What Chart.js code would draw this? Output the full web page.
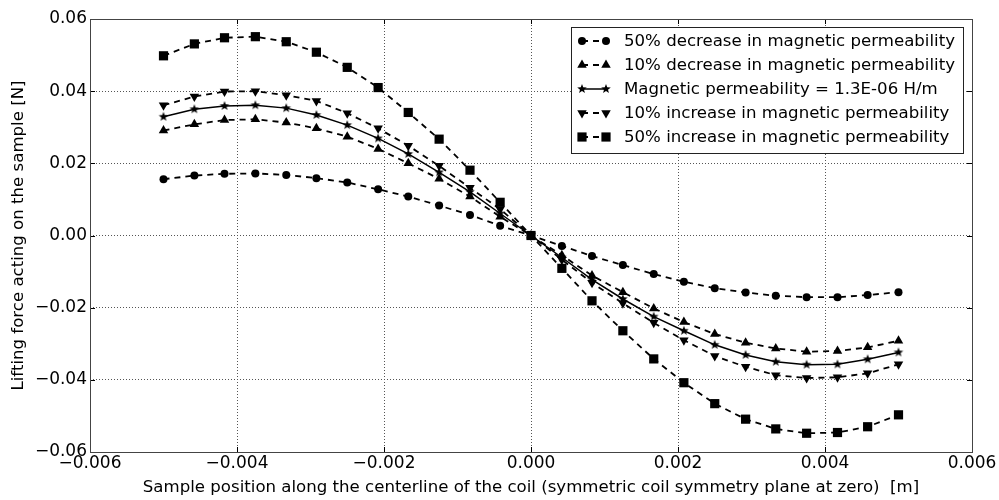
<!DOCTYPE html>
<html>
<head>
<meta charset="utf-8">
<script src="https://cdn.jsdelivr.net/npm/chart.js@4.4.0/dist/chart.umd.min.js"></script>
<style>
  html, body { margin: 0; padding: 0; background: #fff; }
  #wrap { width: 999px; height: 500px; }
</style>
</head>
<body>
<div id="wrap"><canvas id="chart" width="999" height="500"></canvas></div>
<script>
// sample positions [m]
const positions = [-0.005, -0.00458, -0.00417, -0.00375, -0.00333, -0.00292, -0.0025, -0.00208,
  -0.00167, -0.00125, -0.00083, -0.00042, 0, 0.00042, 0.00083, 0.00125, 0.00167, 0.00208,
  0.0025, 0.00292, 0.00333, 0.00375, 0.00417, 0.00458, 0.005];

// lifting force [N]
const dec50 = [0.0156, 0.0166, 0.0171, 0.0172, 0.0168, 0.0159, 0.0147, 0.0128, 0.0108, 0.0083, 0.0057, 0.0027, 0,
  -0.0029, -0.0057, -0.0082, -0.0107, -0.0128, -0.0146, -0.0158, -0.0167, -0.0171, -0.0171, -0.0165, -0.0157];
const dec10 = [0.0291, 0.0308, 0.0320, 0.0322, 0.0313, 0.0297, 0.0274, 0.0240, 0.0200, 0.0157, 0.0108, 0.0052, 0,
  -0.0055, -0.0111, -0.0157, -0.0202, -0.0240, -0.0273, -0.0297, -0.0313, -0.0322, -0.0320, -0.0310, -0.0292];
const nominal = [0.0329, 0.0350, 0.0359, 0.0361, 0.0353, 0.0334, 0.0306, 0.0269, 0.0226, 0.0175, 0.0121, 0.0061, 0,
  -0.0061, -0.0122, -0.0176, -0.0225, -0.0264, -0.0303, -0.0331, -0.0350, -0.0358, -0.0357, -0.0343, -0.0324];
const inc10 = [0.0361, 0.0385, 0.0399, 0.0400, 0.0389, 0.0373, 0.0339, 0.0297, 0.0249, 0.0193, 0.0132, 0.0073, 0,
  -0.0067, -0.0131, -0.0188, -0.0242, -0.0290, -0.0334, -0.0364, -0.0387, -0.0395, -0.0393, -0.0382, -0.0357];
const inc50 = [0.0498, 0.0531, 0.0548, 0.0551, 0.0537, 0.0508, 0.0466, 0.0410, 0.0341, 0.0267, 0.0181, 0.0092, 0,
  -0.0091, -0.0181, -0.0264, -0.0342, -0.0408, -0.0466, -0.0509, -0.0536, -0.0548, -0.0546, -0.0530, -0.0497];

const seriesNames = [
  "50% decrease in magnetic permeability",
  "10% decrease in magnetic permeability",
  "Magnetic permeability = 1.3E-06 H/m",
  "10% increase in magnetic permeability",
  "50% increase in magnetic permeability"
];

const FONT = "'DejaVu Sans', sans-serif";

// filled five-point star marker
function makeStar(outer, inner) {
  const c = document.createElement("canvas");
  const s = Math.ceil(outer * 2 + 2);
  c.width = s; c.height = s;
  const g = c.getContext("2d");
  g.fillStyle = "#000";
  g.beginPath();
  for (let i = 0; i < 10; i++) {
    const r = i % 2 ? inner : outer;
    const a = -Math.PI / 2 + i * Math.PI / 5;
    const px = s / 2 + r * Math.cos(a), py = s / 2 + r * Math.sin(a);
    i ? g.lineTo(px, py) : g.moveTo(px, py);
  }
  g.closePath();
  g.fill();
  return c;
}
const star = makeStar(5, 2.1);

function pts(vals) {
  return vals.map((v, i) => ({ x: positions[i], y: v }));
}

function series(label, vals, style, radius, rotation, dashed) {
  return {
    label: label,
    data: pts(vals),
    showLine: true,
    borderColor: "#000",
    backgroundColor: "#000",
    borderWidth: dashed ? 1.8 : 1.5,
    borderDash: dashed ? [6, 5] : [],
    pointStyle: style,
    pointRadius: radius,
    pointRotation: rotation,
    pointBorderWidth: 0,
    pointBackgroundColor: "#000",
    tension: 0
  };
}

function fmt(v, d) {
  if (Math.abs(v) < 1e-12) v = 0;
  return v.toFixed(d).replace("-", "\u2212");
}

// frame with inward ticks on all four sides
const frame = {
  id: "frame",
  beforeDatasetsDraw(chart) {
    const { ctx, chartArea: a, scales } = chart;
    ctx.save();
    ctx.strokeStyle = "#000";
    ctx.lineWidth = 1;
    ctx.beginPath();
    scales.x.ticks.forEach(t => {
      const px = Math.round(scales.x.getPixelForValue(t.value)) + 0.5;
      ctx.moveTo(px, a.bottom); ctx.lineTo(px, a.bottom - 5);
      ctx.moveTo(px, a.top); ctx.lineTo(px, a.top + 5);
    });
    scales.y.ticks.forEach(t => {
      const py = Math.round(scales.y.getPixelForValue(t.value)) + 0.5;
      ctx.moveTo(a.left, py); ctx.lineTo(a.left + 5, py);
      ctx.moveTo(a.right, py); ctx.lineTo(a.right - 5, py);
    });
    ctx.stroke();
    ctx.strokeStyle = "#444";
    ctx.strokeRect(Math.round(a.left) + 0.5, Math.round(a.top) + 0.5,
      Math.round(a.right - a.left), Math.round(a.bottom - a.top));
    ctx.restore();
  }
};

// legend box with marker-line-marker samples
const legendBox = {
  id: "legendBox",
  afterDraw(chart) {
    const ctx = chart.ctx;
    const x0 = 571, y0 = 27, w = 392, h = 126, rowH = 24;
    ctx.save();
    ctx.fillStyle = "#fff";
    ctx.fillRect(x0, y0, w, h);
    ctx.strokeStyle = "#222";
    ctx.lineWidth = 1;
    ctx.strokeRect(x0 + 0.5, y0 + 0.5, w, h);
    chart.data.datasets.forEach((ds, i) => {
      const y = y0 + 14 + i * rowH;
      const xa = 582, xb = 606;
      ctx.strokeStyle = "#000";
      ctx.lineWidth = ds.borderWidth;
      ctx.setLineDash(ds.borderDash);
      ctx.beginPath();
      ctx.moveTo(xa, y); ctx.lineTo(xb, y);
      ctx.stroke();
      ctx.setLineDash([]);
      [xa, xb].forEach(px => {
        ctx.fillStyle = "#000";
        Chart.helpers.drawPoint(ctx, {
          pointStyle: ds.pointStyle, radius: ds.pointRadius,
          rotation: ds.pointRotation, borderWidth: 0
        }, px, y);
      });
      ctx.fillStyle = "#000";
      ctx.font = "16.6px " + FONT;
      ctx.textBaseline = "middle";
      ctx.textAlign = "left";
      ctx.fillText(ds.label, 624, y + 1);
    });
    ctx.restore();
  }
};

new Chart(document.getElementById("chart"), {
  type: "scatter",
  data: {
    datasets: [
      series(seriesNames[0], dec50, "circle", 4, 0, true),
      series(seriesNames[1], dec10, "triangle", 5.5, 0, true),
      series(seriesNames[2], nominal, star, 5, 0, false),
      series(seriesNames[3], inc10, "triangle", 5.5, 180, true),
      series(seriesNames[4], inc50, "rect", 6.5, 0, true)
    ]
  },
  options: {
    responsive: false,
    animation: false,
    layout: { padding: { left: 0, right: 27, top: 19, bottom: 0 } },
    plugins: { legend: { display: false }, tooltip: { enabled: false } },
    scales: {
      x: {
        type: "linear", min: -0.006, max: 0.006,
        afterFit: s => { s.height = 48; },
        ticks: {
          stepSize: 0.002, maxRotation: 0, padding: 1, color: "#000",
          font: { family: FONT, size: 17 },
          callback: v => fmt(v, 3)
        },
        grid: { color: "#555", lineWidth: 1, drawTicks: false },
        border: { display: false, dash: [1, 2] },
        title: {
          display: true, color: "#000",
          text: "Sample position along the centerline of the coil (symmetric coil symmetry plane at zero)  [m]",
          font: { family: FONT, size: 16.6 }, padding: { top: 0, bottom: 2 }
        }
      },
      y: {
        type: "linear", min: -0.06, max: 0.06,
        afterFit: s => { s.width = 90; },
        ticks: {
          stepSize: 0.02, padding: 3, color: "#000",
          font: { family: FONT, size: 17 },
          callback: v => fmt(v, 2)
        },
        grid: { color: "#555", lineWidth: 1, drawTicks: false },
        border: { display: false, dash: [1, 2] },
        title: {
          display: true, color: "#000",
          text: "Lifting force acting on the sample [N]",
          font: { family: FONT, size: 16.6 }, padding: { top: 9, bottom: 0 }
        }
      }
    }
  },
  plugins: [frame, legendBox]
});
</script>
</body>
</html>
